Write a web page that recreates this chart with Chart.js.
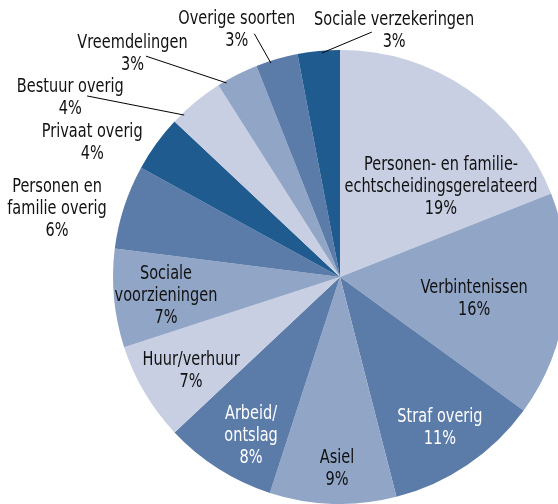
<!DOCTYPE html>
<html>
<head>
<meta charset="utf-8">
<script src="https://cdn.jsdelivr.net/npm/chart.js@4.4.1/dist/chart.umd.min.js"></script>
<style>
  html, body { margin: 0; padding: 0; background: #fff; overflow: hidden; }
  .wrap { position: relative; width: 558px; height: 504px; overflow: hidden; }
  #pie { position: absolute; left: 0; top: 0; }
</style>
</head>
<body>
<div class="wrap"><canvas id="pie" width="600" height="504"></canvas></div>
<script>
const categories = [
  "Personen- en familie-\nechtscheidingsgerelateerd",
  "Verbintenissen",
  "Straf overig",
  "Asiel",
  "Arbeid/\nontslag",
  "Huur/verhuur",
  "Sociale\nvoorzieningen",
  "Personen en\nfamilie overig",
  "Privaat overig",
  "Bestuur overig",
  "Vreemdelingen",
  "Overige soorten",
  "Sociale verzekeringen",
];
const shares = [19, 16, 11, 9, 8, 7, 7, 6, 4, 4, 3, 3, 3];

const LIGHT = "#c8cfe2", MID = "#91a5c6", DARK = "#5b7ba8", NAVY = "#1f5b8e";
const sliceColors = [LIGHT, MID, DARK, MID, DARK, LIGHT, MID, DARK, NAVY, LIGHT, MID, DARK, NAVY];
const textColors = ["#111", "#111", "#fff", "#111", "#fff", "#111", "#111", "#111", "#111", "#111", "#111", "#111", "#111"];

// label block centre, polar: degrees clockwise from 12 o'clock, fraction of radius
const labelAngle = [48.3, 99.5, 146.5, 180.9, 209.2, 237.6, 263.8, 283.5, 298.3, 303.5, 317.1, 337.3, 12.4];
const labelDist = [0.596, 0.599, 0.798, 0.846, 0.803, 0.777, 0.771, 1.282, 1.24, 1.425, 1.343, 1.178, 1.111];

// leader lines [fromAngle, fromDist, toAngle, toDist], null = none
const leaders = [null, null, null, null, null, null, null, null, null,
  [305.6, 1.37, 316.1, 0.99],
  [318.7, 1.295, 329.7, 0.99],
  [340.6, 1.136, 342.1, 0.99],
  [7.4, 1.088, 355.4, 0.99],
];

const FONT = '19px "DejaVu Sans", Verdana, sans-serif';
const SQUEEZE = 0.765;
const LINE_H = 22;

function polar(arc, deg, frac) {
  const a = deg * Math.PI / 180;
  return {
    x: arc.x + arc.outerRadius * frac * Math.sin(a),
    y: arc.y - arc.outerRadius * frac * Math.cos(a),
  };
}

const pieLabels = {
  id: "pieLabels",
  afterDatasetsDraw(chart) {
    const ctx = chart.ctx;
    const arcs = chart.getDatasetMeta(0).data;
    const ref = arcs[0];
    ctx.save();
    ctx.strokeStyle = "#000";
    ctx.lineWidth = 1;
    leaders.forEach((l) => {
      if (!l) return;
      const p = polar(ref, l[0], l[1]);
      const q = polar(ref, l[2], l[3]);
      ctx.beginPath();
      ctx.moveTo(p.x, p.y);
      ctx.lineTo(q.x, q.y);
      ctx.stroke();
    });
    ctx.font = FONT;
    ctx.textAlign = "center";
    ctx.textBaseline = "middle";
    categories.forEach((name, i) => {
      const lines = name.split("\n").concat(shares[i] + "%");
      const c = polar(ref, labelAngle[i], labelDist[i]);
      const y0 = c.y - (lines.length - 1) * LINE_H / 2;
      ctx.fillStyle = textColors[i];
      lines.forEach((t, k) => {
        ctx.save();
        ctx.translate(c.x, y0 + k * LINE_H);
        ctx.scale(SQUEEZE, 1);
        ctx.fillText(t, 0, 0);
        ctx.restore();
      });
    });
    ctx.restore();
  },
};

new Chart(document.getElementById("pie"), {
  type: "pie",
  data: {
    labels: categories,
    datasets: [{
      data: shares,
      backgroundColor: sliceColors,
      borderWidth: 0,
      hoverBorderWidth: 0,
      hoverOffset: 0,
    }],
  },
  options: {
    responsive: false,
    animation: false,
    events: [],
    layout: { padding: { left: 113, right: 33, top: 50, bottom: 0 } },
    plugins: { legend: { display: false }, tooltip: { enabled: false } },
  },
  plugins: [pieLabels],
});
</script>
</body>
</html>
